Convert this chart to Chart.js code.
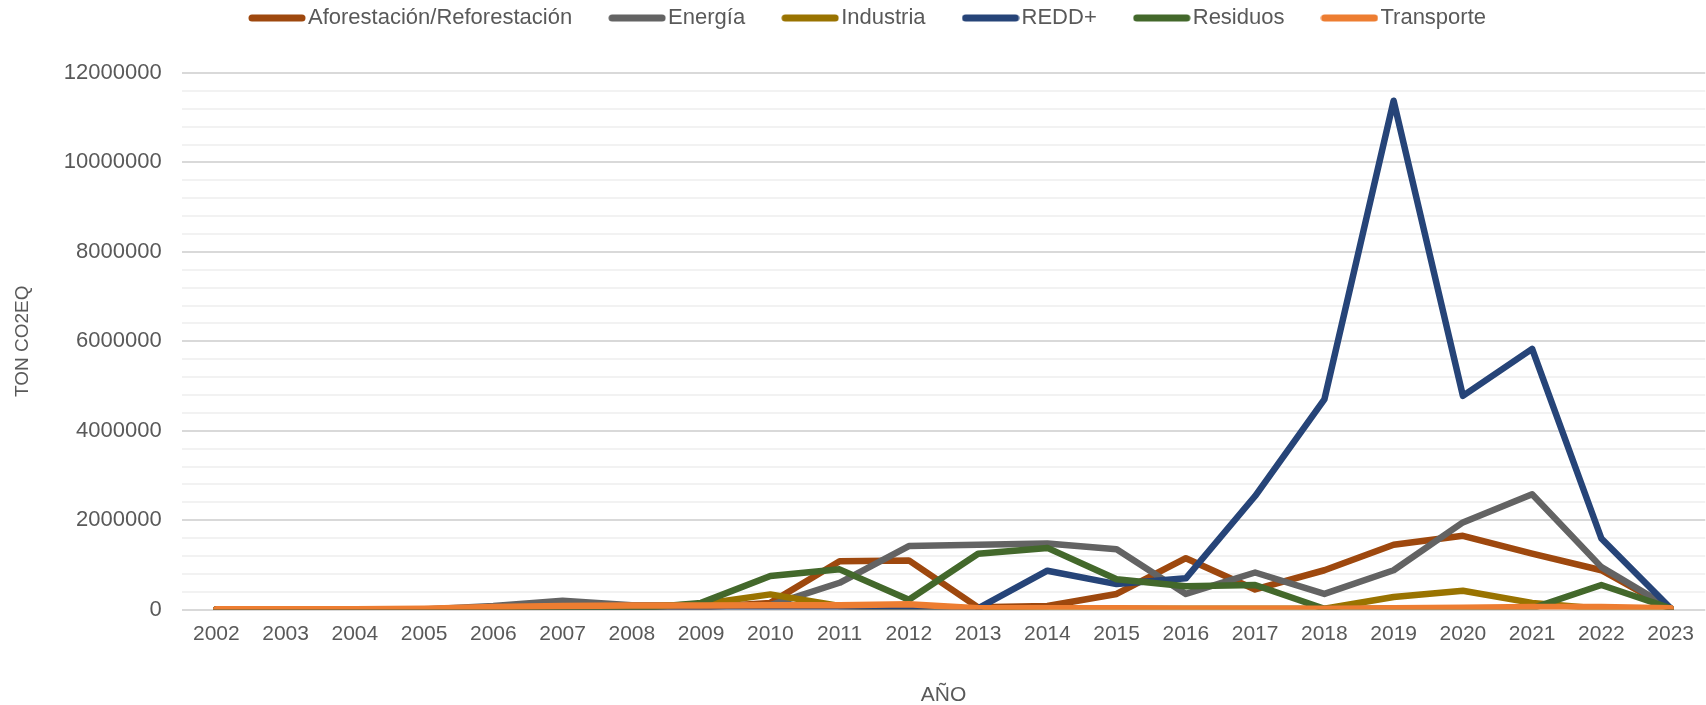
<!DOCTYPE html>
<html>
<head>
<meta charset="utf-8">
<script src="https://cdn.jsdelivr.net/npm/chart.js@4.4.1/dist/chart.umd.min.js"></script>
<style>
  html, body { margin: 0; padding: 0; background: #fff; }
  #wrap { width: 1706px; height: 705px; position: relative; }
</style>
</head>
<body>
<div id="wrap"><canvas id="chart_co2"></canvas></div>
<script>
// años
const years = ["2002", "2003", "2004", "2005", "2006", "2007", "2008", "2009", "2010", "2011", "2012",
               "2013", "2014", "2015", "2016", "2017", "2018", "2019", "2020", "2021", "2022", "2023"];

// TON CO2EQ por sector
const aforestacion = [0, 0, 0, 0, 20000, 30000, 30000, 50000, 150000, 1080000, 1100000,
                      50000, 80000, 350000, 1150000, 450000, 880000, 1450000, 1650000, 1250000, 880000, 20000];
const energia      = [0, 0, 0, 0, 80000, 200000, 100000, 100000, 100000, 600000, 1420000,
                      1450000, 1480000, 1350000, 350000, 830000, 350000, 880000, 1950000, 2580000, 950000, 30000];
const industria    = [0, 0, 0, 0, 10000, 20000, 50000, 120000, 340000, 80000, 30000,
                      20000, 20000, 20000, 20000, 20000, 20000, 280000, 420000, 150000, 20000, 0];
const redd         = [0, 0, 0, 0, 0, 0, 0, 0, 0, 0, 0,
                      30000, 870000, 570000, 700000, 2540000, 4700000, 11380000, 4780000, 5830000, 1590000, 30000];
const residuos     = [0, 0, 0, 0, 0, 0, 20000, 150000, 750000, 900000, 220000,
                      1250000, 1380000, 680000, 520000, 550000, 20000, 20000, 10000, 30000, 550000, 30000];
const transporte   = [10000, 10000, 10000, 20000, 60000, 80000, 90000, 90000, 100000, 100000, 120000,
                      30000, 30000, 30000, 20000, 20000, 20000, 30000, 40000, 60000, 60000, 30000];

const yMax = 12000000;
const yStep = 400000;
const yMajor = 2000000;

// muestra de leyenda tipo Excel (barra con puntas redondas)
function pill(color) {
    const c = document.createElement('canvas');
    c.width = 58;
    c.height = 8;
    const g = c.getContext('2d');
    g.strokeStyle = color;
    g.lineWidth = 7;
    g.lineCap = 'round';
    g.beginPath();
    g.moveTo(4, 4);
    g.lineTo(54, 4);
    g.stroke();
    return c;
}

function serie(label, color, data) {
    return {
        label: label,
        data: data,
        borderColor: color,
        backgroundColor: color,
        borderWidth: 6.5,
        pointRadius: 0,
        pointHoverRadius: 0,
        pointStyle: pill(color),
        tension: 0,
        borderCapStyle: 'round',
        borderJoinStyle: 'round',
        fill: false
    };
}

// el último de Excel queda arriba: se cargan al revés y la leyenda se invierte
const datasets = [
    serie("Transporte", "#ED7D31", transporte),
    serie("Residuos", "#43682B", residuos),
    serie("REDD+", "#264478", redd),
    serie("Industria", "#997300", industria),
    serie("Energía", "#636363", energia),
    serie("Aforestación/Reforestación", "#9E480E", aforestacion)
];

const txt = '#595959';
const fam = "'Liberation Sans', Arial, sans-serif";

// deja más aire bajo la leyenda
const legendFit = {
    id: 'legendFit',
    beforeInit(chart) {
        const fit = chart.legend.fit;
        chart.legend.fit = function() {
            fit.bind(chart.legend)();
            this.height += 34;
        };
    }
};

var ctx = document.getElementById("chart_co2");

const chart_co2 = new Chart(ctx, {
    type: 'line',
    data: {
        labels: years,
        datasets: datasets
    },
    plugins: [legendFit],
    options: {
        responsive: true,
        maintainAspectRatio: false,
        animation: false,
        layout: {
            padding: { left: 33, right: -4, top: -38, bottom: -3 }
        },
        plugins: {
            legend: {
                display: true,
                position: 'top',
                reverse: true,
                labels: {
                    usePointStyle: true,
                    pointStyleWidth: 40,
                    boxHeight: 8,
                    padding: 45,
                    color: txt,
                    font: { family: fam, size: 22 }
                }
            },
            tooltip: { enabled: false }
        },
        scales: {
            x: {
                offset: true,
                grid: { display: false, drawTicks: false },
                border: { display: false },
                ticks: {
                    color: txt,
                    padding: 12,
                    maxRotation: 0,
                    autoSkip: false,
                    font: { family: fam, size: 21 }
                },
                title: {
                    display: true,
                    text: 'AÑO',
                    color: txt,
                    padding: { top: 24, bottom: 0 },
                    font: { family: fam, size: 21 }
                }
            },
            y: {
                min: 0,
                max: yMax,
                grid: {
                    drawTicks: false,
                    lineWidth: 2,
                    color: function(c) {
                        return (c.tick && c.tick.value % yMajor === 0) ? '#d9d9d9' : '#f2f2f2';
                    }
                },
                border: { display: false },
                ticks: {
                    stepSize: yStep,
                    autoSkip: false,
                    color: txt,
                    padding: 20,
                    font: { family: fam, size: 22 },
                    callback: function(value) {
                        return value % yMajor === 0 ? String(value) : '';
                    }
                },
                title: {
                    display: true,
                    text: 'TON CO2EQ',
                    color: txt,
                    padding: { top: -22, bottom: 10 },
                    font: { family: fam, size: 19 }
                }
            }
        }
    }
});
</script>
</body>
</html>
